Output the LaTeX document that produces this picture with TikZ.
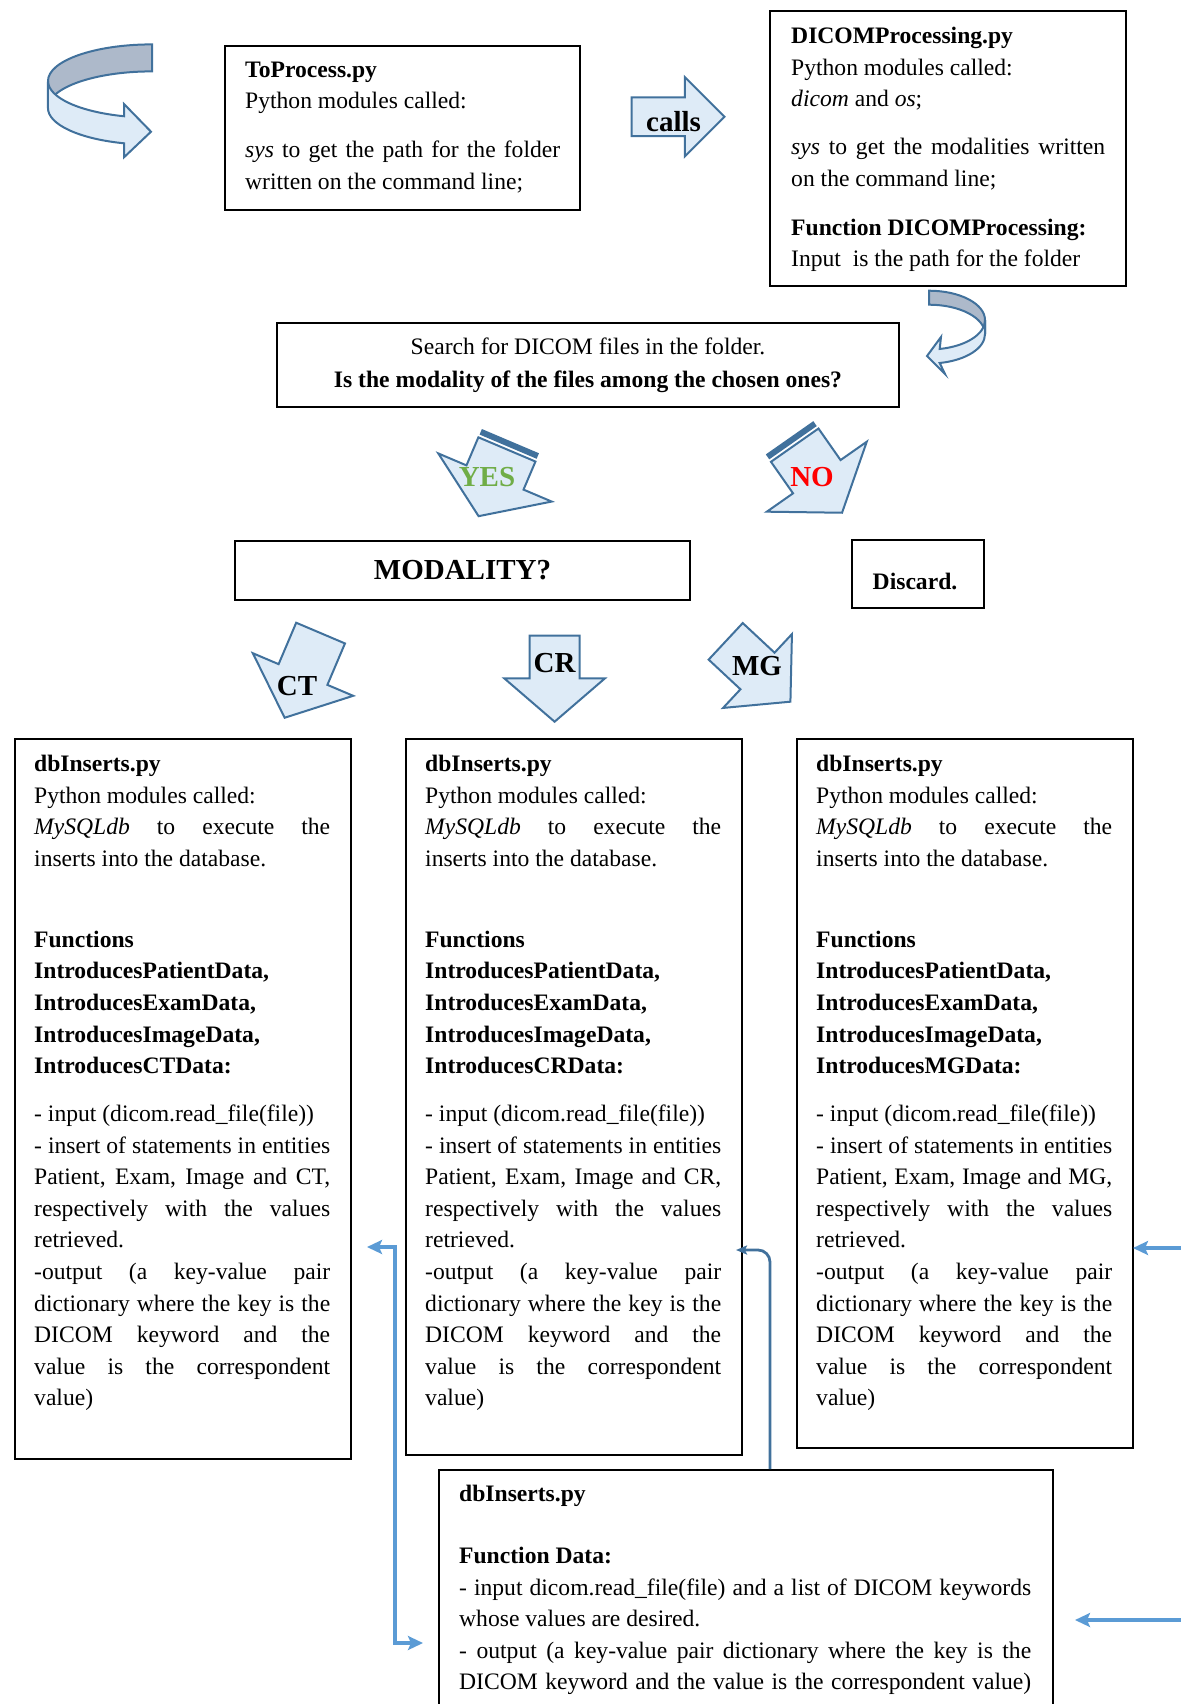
\documentclass[tikz,border=0pt]{standalone}
\usepackage{fontspec}
\setmainfont{Liberation Serif}
\usetikzlibrary{arrows.meta}

\definecolor{arrowline}{HTML}{41719C}
\definecolor{arrowfill}{HTML}{DEEBF7}
\definecolor{ribbongray}{HTML}{ADB9CA}
\definecolor{linkblue}{HTML}{5B9BD5}
\definecolor{yesgreen}{HTML}{70AD47}

\newcommand{\bodyfont}{\fontsize{23.6}{31.6}\selectfont}
\newcommand{\lblfont}{\fontsize{29}{34}\selectfont\bfseries}
\newcommand{\just}[2][296pt]{\makebox[#1][s]{#2}}

\tikzset{
	box/.style={draw=black, line width=2pt, inner sep=0pt, anchor=north west},
	txt/.style={inner sep=0pt, anchor=north west, align=justify, font=\bodyfont},
	lbl/.style={inner sep=0pt, font=\lblfont},
	blockarrow/.style={fill=arrowfill, draw=arrowline, line width=2pt, line join=miter},
	ribbon/.style={draw=arrowline, line width=2pt, line join=miter},
	link/.style={draw=linkblue, line width=3.5pt},
	backlink/.style={draw=arrowline, line width=2.8pt, >={Stealth[length=11pt, width=9pt, inset=2pt]}}
}

\begin{document}
\begin{tikzpicture}[
		x=1pt, y=-1pt,
		line cap=butt,
		>={Stealth[length=15pt, width=14pt, inset=3pt]}
		]
		
		\useasboundingbox (0,0) rectangle (1180,1704);
		
		\filldraw[ribbon, fill=ribbongray] 
		(152,44.4) arc[start angle=90, end angle=180, x radius=104pt, y radius=36.6pt] 
		-- ++(0,27) arc[start angle=180, end angle=90, x radius=104pt, y radius=36.6pt] -- cycle;
		\filldraw[ribbon, fill=arrowfill] 
		(48,81) arc[start angle=180, end angle=254.4, x radius=104pt, y radius=36.6pt] 
		-- (124,104) -- (151,131.7) -- (124,157.3) -- (124,143.3) 
		arc[start angle=254.4, end angle=180, x radius=104pt, y radius=36.6pt] -- cycle;
		
		\filldraw[ribbon, fill=ribbongray] 
		(929,290.7) arc[start angle=90, end angle=0, x radius=56pt, y radius=29.4pt] 
		-- ++(0,14) arc[start angle=0, end angle=90, x radius=56pt, y radius=29.4pt] -- cycle;
		\filldraw[ribbon, fill=arrowfill] 
		(985,320.1) arc[start angle=0, end angle=-79, x radius=56pt, y radius=29.4pt] 
		-- (941,337) -- (927,356) -- (945,374) -- (939.7,363) 
		arc[start angle=-79, end angle=0, x radius=56pt, y radius=29.4pt] -- cycle;
		
		\foreach \cx/\cy/\bw/\len/\hw/\tip/\rot in {684.8/116.7/19.4/53.2/39.7/39.7/90, 
			495/477.5/31/30.5/61.6/42/-23, 816.8/476.7/29/38.5/61/44/35, 
			303/674.5/26.5/45/54.5/47/-23, 554.6/678.3/25/42.6/50.4/43.4/0, 
			757.5/671/25/43.5/50.5/45/47} {
			\begin{scope}[shift={(\cx,\cy)}, rotate=\rot]
				\filldraw[blockarrow] (-\bw,-\len) -- (\bw,-\len) -- (\bw,0) -- (\hw,0) 
				-- (0,\tip) -- (-\hw,0) -- (-\bw,0) -- cycle;
			\end{scope}
		}
		\begin{scope}[shift={(495,477.5)}, rotate=-23]
			\fill[arrowline] (-31,-39.5) rectangle (31,-33.5);
		\end{scope}
		\begin{scope}[shift={(816.8,476.7)}, rotate=35]
			\fill[arrowline] (-29,-47.5) rectangle (29,-41.5);
		\end{scope}
		
		\node[lbl] (callsLbl) at (673.6,121.7) {calls};
		\node[lbl, text=yesgreen] (yesLbl) at (487,477) {YES};
		\node[lbl, text=red] (noLbl) at (812,477) {NO};
		\node[lbl] (ctLbl) at (297,686) {CT};
		\node[lbl] (crLbl) at (554.6,663) {CR};
		\node[lbl] (mgLbl) at (757,666) {MG};
		
		\node[box, minimum width=355pt, minimum height=164pt] (toproc) at (224,45) {};
		\node[txt, text width=330pt] (toprocText) at (245,61.6) {%
			\textbf{ToProcess.py}\\
			Python modules called:\\[17.3pt]
			\just[315pt]{\textit{sys} to get the path for the folder}\\
			written on the command line;};
		
		\node[box, minimum width=356pt, minimum height=275pt] (dicomproc) at (769,10) {};
		\node[txt, text width=314pt] (dicomText) at (791,27) {%
			\textbf{DICOMProcessing.py}\\
			Python modules called:\\
			\textit{dicom} and \textit{os};\\[16.5pt]
			\just[314pt]{\textit{sys} to get the modalities written}\\
			on the command line;\\[17.3pt]
			\textbf{Function DICOMProcessing:}\\
			Input\ \ is the path for the folder};
		
		\node[box, minimum width=622pt, minimum height=84pt, align=center, font=\bodyfont] 
		(search) at (276,322) {Search for DICOM files in the folder.\\[1.5pt]
			\textbf{Is the modality of the files among the chosen ones?}};
		
		\node[box, minimum width=455pt, minimum height=59pt, font=\lblfont] 
		(modality) at (234,540) {MODALITY?};
		\node[box, minimum width=132pt, minimum height=68pt, font=\bodyfont\bfseries, 
		text height=49.5pt, text depth=18.5pt] (discard) at (851,539) {Discard.\kern6pt};
		
		\foreach \mx/\bh/\mdl in {14/720/CT, 405/716/CR, 796/709/MG} {
			\node[box, minimum width=336pt, minimum height=\bh pt] (box\mdl) at (\mx,738) {};
			\node[txt, text width=296pt] (text\mdl) at (\mx+20,755) {%
				\textbf{dbInserts.py}\\
				Python modules called:\\
				\just{\textit{MySQLdb} to execute the}\\
				inserts into the database.\\[49.3pt]
				\textbf{Functions}\\
				\textbf{IntroducesPatientData,}\\
				\textbf{IntroducesExamData,}\\
				\textbf{IntroducesImageData,}\\
				\textbf{Introduces\mdl Data:}\\[16.3pt]
				- input (dicom.read\_file(file))\\
				\just{- insert of statements in entities}\\
				\just{Patient, Exam, Image and \mdl,}\\
				\just{respectively with the values}\\
				retrieved.\\
				\just{-output (a key-value pair}\\
				\just{dictionary where the key is the}\\
				\just{DICOM keyword and the}\\
				\just{value is the correspondent}\\
				value)};
		}
		
		\node[box, minimum width=614pt, minimum height=300pt] (data) at (438,1469) {};
		\node[txt, text width=572pt] (dataText) at (459,1485) {%
			\textbf{dbInserts.py}\\[30.3pt]
			\textbf{Function Data:}\\
			\just[572pt]{- input dicom.read\_file(file) and a list of DICOM keywords}\\
			whose values are desired.\\
			\just[572pt]{- output (a key-value pair dictionary where the key is the}\\
			\just[572pt]{DICOM keyword and the value is the correspondent value)}};
		
		\coordinate (ctLink) at (367,1247);
		\coordinate (dataLink) at (423,1643);
		\draw[link, <->] (ctLink) -- ++(28,0) |- (dataLink);
		
		\coordinate (dataTop) at (770,1469);
		\coordinate (crLink) at (736,1250);
		\draw[backlink, ->, rounded corners=12pt] (dataTop) |- (crLink);
		
		\coordinate (mgFrom) at (1182,1248);
		\coordinate (mgIn) at (1133,1248);
		\draw[link, ->] (mgFrom) -- (mgIn);
		\coordinate (dataFrom) at (1182,1620);
		\coordinate (dataIn) at (1075,1620);
		\draw[link, ->] (dataFrom) -- (dataIn);
		
	\end{tikzpicture}
\end{document}
